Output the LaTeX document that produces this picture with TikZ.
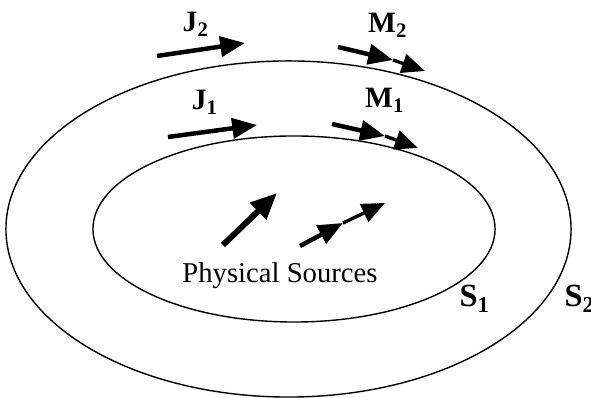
\documentclass[tikz,border=0pt]{standalone}
\usepackage{fontspec}
\setmainfont{Liberation Serif}
\usepackage{tikz}
\usetikzlibrary{arrows.meta,positioning}

\begin{document}
\begin{tikzpicture}[
  x=0.0125cm, y=-0.0125cm,
  surf/.style={line width=0.5pt},
  lbl/.style={anchor=base, inner sep=0pt, font=\fontsize{10.5}{12}\selectfont\bfseries},
  slbl/.style={lbl, font=\fontsize{11.5}{13}\selectfont\bfseries},
  arr/.style={-{Triangle[length=0.31cm, width=0.25cm]}, line width=1.6pt},
  arrtail/.style={-{Triangle[length=0.29cm, width=0.24cm]}, line width=1.2pt},
  srcarr/.style={-{Triangle[length=0.33cm, width=0.28cm]}, line width=2.1pt},
]
\useasboundingbox (0,0) rectangle (591,398);

% Surfaces
\draw[surf] (288.5,229) ellipse [x radius=3.531cm, y radius=2.1cm];
\draw[surf] (294,229) ellipse [x radius=2.5125cm, y radius=1.1625cm];

% Equivalent currents on S2
\coordinate (j2s) at (157,56);  \coordinate (j2e) at (245,43);
\coordinate (m2s) at (338,47);  \coordinate (m2m) at (393,60);
\coordinate (m2e) at (425,71);
% Equivalent currents on S1
\coordinate (j1s) at (168,137); \coordinate (j1e) at (257,125);
\coordinate (m1s) at (332,124); \coordinate (m1m) at (385,136);
\coordinate (m1e) at (418,148);
% Physical sources
\coordinate (pas) at (223,245); \coordinate (pae) at (277,193);
\coordinate (pbs) at (300,246); \coordinate (pbm) at (343,223);
\coordinate (pbe) at (385,203);

% Arrows
\draw[arr] (j2s) -- (j2e);
\draw[arr] (m2s) -- (m2m);
\draw[arrtail] (m2m) -- (m2e);
\draw[arr] (j1s) -- (j1e);
\draw[arr] (m1s) -- (m1m);
\draw[arrtail] (m1m) -- (m1e);
\draw[srcarr] (pas) -- (pae);
\draw[arr] (pbs) -- (pbm);
\draw[arrtail] (pbm) -- (pbe);

% Labels
\node[lbl] (J2) at (196,32) {J\textsubscript{2}};
\node[lbl] (M2) at (388,33) {M\textsubscript{2}};
\node[lbl] (J1) at (205,110) {J\textsubscript{1}};
\node[lbl] (M1) at (385,108) {M\textsubscript{1}};
\node[slbl] (S1) at (475,307) {S\textsubscript{1}};
\node[slbl] (S2) at (580,307) {S\textsubscript{2}};
\node[anchor=base, inner sep=0pt, font=\fontsize{10.2}{12}\selectfont]
  (src) at (280,283) {Physical Sources};

\end{tikzpicture}
\end{document}
